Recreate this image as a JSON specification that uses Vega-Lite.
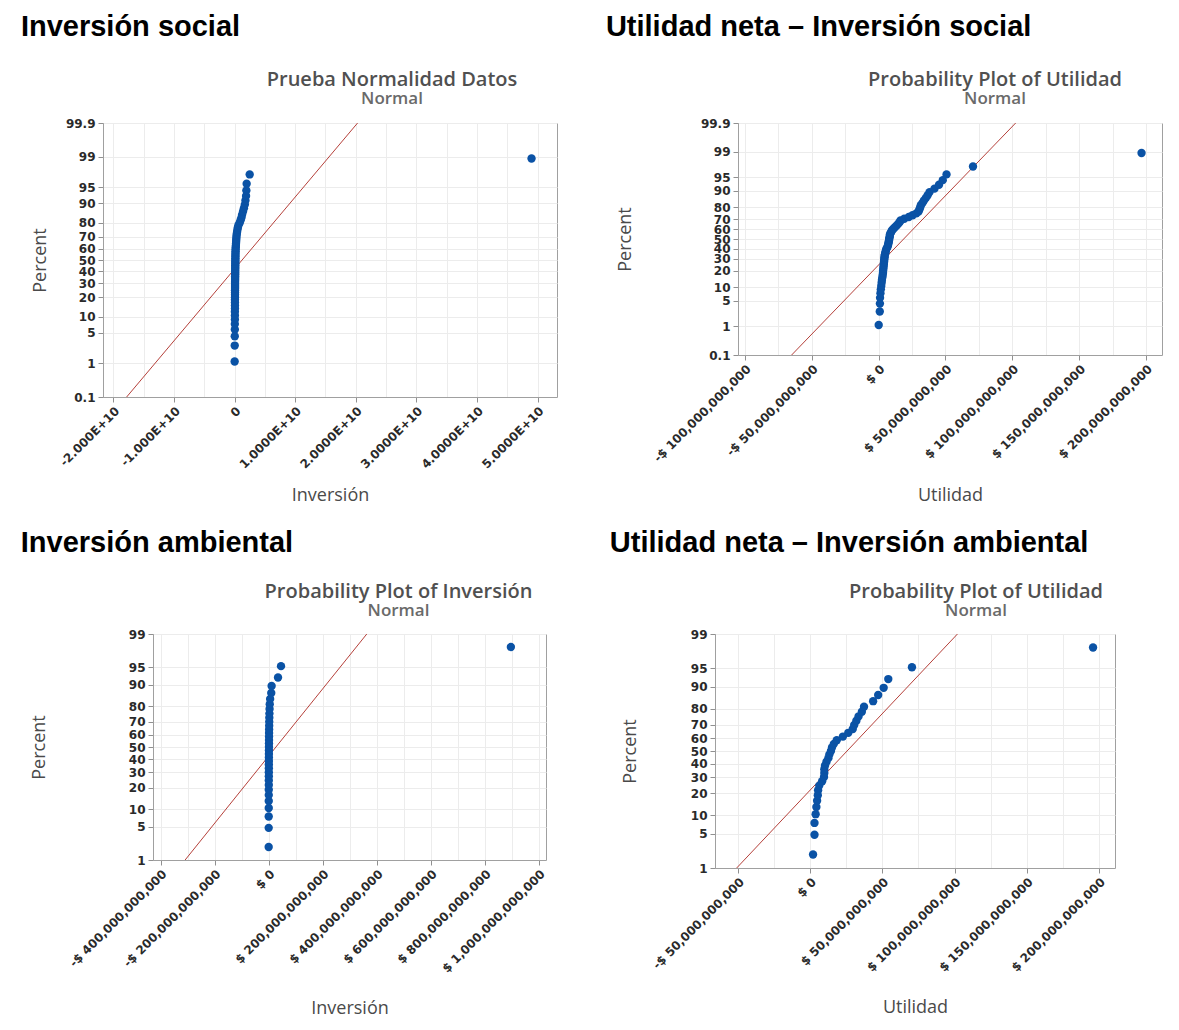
{
  "$schema": "https://vega.github.io/schema/vega-lite/v6.json",
  "background": "white",
  "padding": {"left": 0, "top": 12, "right": 0, "bottom": 0},
  "datasets": {
    "inv_social": [{"inversion":2e7,"percent":1.1},{"inversion":3e7,"percent":2.68},{"inversion":4e7,"percent":4.26},{"inversion":5e7,"percent":5.84},{"inversion":5e7,"percent":7.41},{"inversion":6e7,"percent":8.99},{"inversion":6e7,"percent":10.57},{"inversion":6e7,"percent":12.15},{"inversion":7e7,"percent":13.72},{"inversion":7e7,"percent":15.3},{"inversion":7e7,"percent":16.88},{"inversion":7e7,"percent":18.45},{"inversion":8e7,"percent":20.03},{"inversion":8e7,"percent":21.61},{"inversion":8e7,"percent":23.19},{"inversion":8e7,"percent":24.76},{"inversion":9e7,"percent":26.34},{"inversion":9e7,"percent":27.92},{"inversion":9e7,"percent":29.5},{"inversion":9e7,"percent":31.07},{"inversion":1.0e8,"percent":32.65},{"inversion":1.0e8,"percent":34.23},{"inversion":1.0e8,"percent":35.8},{"inversion":1.1e8,"percent":37.38},{"inversion":1.1e8,"percent":38.96},{"inversion":1.1e8,"percent":40.54},{"inversion":1.2e8,"percent":42.11},{"inversion":1.2e8,"percent":43.69},{"inversion":1.2e8,"percent":45.27},{"inversion":1.3e8,"percent":46.85},{"inversion":1.3e8,"percent":48.42},{"inversion":1.4e8,"percent":50},{"inversion":1.4e8,"percent":51.58},{"inversion":1.5e8,"percent":53.15},{"inversion":1.5e8,"percent":54.73},{"inversion":1.6e8,"percent":56.31},{"inversion":1.7e8,"percent":57.89},{"inversion":1.8e8,"percent":59.46},{"inversion":2.0e8,"percent":61.04},{"inversion":2.2e8,"percent":62.62},{"inversion":2.4e8,"percent":64.2},{"inversion":2.6e8,"percent":65.77},{"inversion":2.8e8,"percent":67.35},{"inversion":3.0e8,"percent":68.93},{"inversion":3.3e8,"percent":70.5},{"inversion":3.7e8,"percent":72.08},{"inversion":4.2e8,"percent":73.66},{"inversion":4.8e8,"percent":75.24},{"inversion":5.5e8,"percent":76.81},{"inversion":6.5e8,"percent":78.39},{"inversion":8.5e8,"percent":79.97},{"inversion":1.0e9,"percent":81.55},{"inversion":1.15e9,"percent":83.12},{"inversion":1.25e9,"percent":84.7},{"inversion":1.4e9,"percent":86.28},{"inversion":1.55e9,"percent":87.85},{"inversion":1.7e9,"percent":89.43},{"inversion":1.8e9,"percent":91.01},{"inversion":1.9e9,"percent":92.59},{"inversion":1.95e9,"percent":94.16},{"inversion":2.0e9,"percent":95.74},{"inversion":2.5e9,"percent":97.32},{"inversion":4.9e10,"percent":98.9}],
    "linea_inv_social": [{"inversion":-1.78e10,"percent":0.1},{"inversion":2.03e10,"percent":99.9}],
    "util_social": [{"utilidad":0.1e9,"percent":1.1},{"utilidad":0.9e9,"percent":2.68},{"utilidad":1.0e9,"percent":4.26},{"utilidad":1.1e9,"percent":5.84},{"utilidad":1.4e9,"percent":7.41},{"utilidad":1.7e9,"percent":8.99},{"utilidad":2.0e9,"percent":10.57},{"utilidad":2.3e9,"percent":12.15},{"utilidad":2.5e9,"percent":13.72},{"utilidad":2.8e9,"percent":15.3},{"utilidad":3.1e9,"percent":16.88},{"utilidad":3.3e9,"percent":18.45},{"utilidad":3.4e9,"percent":20.03},{"utilidad":3.6e9,"percent":21.61},{"utilidad":3.7e9,"percent":23.19},{"utilidad":3.9e9,"percent":24.76},{"utilidad":4.0e9,"percent":26.34},{"utilidad":4.2e9,"percent":27.92},{"utilidad":4.2e9,"percent":29.5},{"utilidad":4.5e9,"percent":31.07},{"utilidad":4.5e9,"percent":32.65},{"utilidad":4.8e9,"percent":34.23},{"utilidad":5.1e9,"percent":35.8},{"utilidad":5.4e9,"percent":37.38},{"utilidad":5.7e9,"percent":38.96},{"utilidad":6.2e9,"percent":40.54},{"utilidad":6.8e9,"percent":42.11},{"utilidad":7.1e9,"percent":43.69},{"utilidad":7.3e9,"percent":45.27},{"utilidad":7.6e9,"percent":46.85},{"utilidad":7.8e9,"percent":48.42},{"utilidad":7.9e9,"percent":50},{"utilidad":8.2e9,"percent":51.58},{"utilidad":8.4e9,"percent":53.15},{"utilidad":8.5e9,"percent":54.73},{"utilidad":9.0e9,"percent":56.31},{"utilidad":9.6e9,"percent":57.89},{"utilidad":10.2e9,"percent":59.46},{"utilidad":11.3e9,"percent":61.04},{"utilidad":12.4e9,"percent":62.62},{"utilidad":13.6e9,"percent":64.2},{"utilidad":14.7e9,"percent":65.77},{"utilidad":15.8e9,"percent":67.35},{"utilidad":16.4e9,"percent":68.93},{"utilidad":19.2e9,"percent":70.5},{"utilidad":22.6e9,"percent":72.08},{"utilidad":25.4e9,"percent":73.66},{"utilidad":28.2e9,"percent":75.24},{"utilidad":29.9e9,"percent":76.81},{"utilidad":30.5e9,"percent":78.39},{"utilidad":31.1e9,"percent":79.97},{"utilidad":31.6e9,"percent":81.55},{"utilidad":32.8e9,"percent":83.12},{"utilidad":33.9e9,"percent":84.7},{"utilidad":35.3e9,"percent":86.28},{"utilidad":36.7e9,"percent":87.85},{"utilidad":38.1e9,"percent":89.43},{"utilidad":41.8e9,"percent":91.01},{"utilidad":45.2e9,"percent":92.59},{"utilidad":48.0e9,"percent":94.16},{"utilidad":50.8e9,"percent":95.74},{"utilidad":70.6e9,"percent":97.32},{"utilidad":196.6e9,"percent":98.9}],
    "linea_util_social": [{"utilidad":-65.0e9,"percent":0.1},{"utilidad":102.5e9,"percent":99.9}],
    "inv_amb": [{"inversion":0.2e9,"percent":1.98},{"inversion":0.3e9,"percent":4.8},{"inversion":0.4e9,"percent":7.63},{"inversion":0.5e9,"percent":10.45},{"inversion":0.5e9,"percent":13.28},{"inversion":0.6e9,"percent":16.1},{"inversion":0.6e9,"percent":18.93},{"inversion":0.7e9,"percent":21.75},{"inversion":0.7e9,"percent":24.58},{"inversion":0.8e9,"percent":27.4},{"inversion":0.8e9,"percent":30.23},{"inversion":0.9e9,"percent":33.05},{"inversion":0.9e9,"percent":35.88},{"inversion":1.0e9,"percent":38.7},{"inversion":1.0e9,"percent":41.53},{"inversion":1.1e9,"percent":44.35},{"inversion":1.2e9,"percent":47.18},{"inversion":1.3e9,"percent":50},{"inversion":1.4e9,"percent":52.82},{"inversion":1.5e9,"percent":55.65},{"inversion":1.6e9,"percent":58.47},{"inversion":1.7e9,"percent":61.3},{"inversion":1.9e9,"percent":64.12},{"inversion":2.1e9,"percent":66.95},{"inversion":2.3e9,"percent":69.77},{"inversion":2.6e9,"percent":72.6},{"inversion":3.0e9,"percent":75.42},{"inversion":3.5e9,"percent":78.25},{"inversion":4.2e9,"percent":81.07},{"inversion":5.6e9,"percent":83.9},{"inversion":9.7e9,"percent":86.72},{"inversion":11.1e9,"percent":89.55},{"inversion":34.8e9,"percent":92.37},{"inversion":45.9e9,"percent":95.2},{"inversion":896.4e9,"percent":98.02}],
    "linea_inv_amb": [{"inversion":-309e9,"percent":1},{"inversion":363.3e9,"percent":99}],
    "util_amb": [{"utilidad":2.0e9,"percent":1.98},{"utilidad":3.0e9,"percent":4.8},{"utilidad":3.0e9,"percent":7.63},{"utilidad":3.8e9,"percent":10.45},{"utilidad":4.3e9,"percent":13.28},{"utilidad":4.8e9,"percent":16.1},{"utilidad":5.3e9,"percent":18.93},{"utilidad":5.5e9,"percent":21.75},{"utilidad":6.3e9,"percent":24.58},{"utilidad":8.3e9,"percent":27.4},{"utilidad":9.6e9,"percent":30.23},{"utilidad":9.8e9,"percent":33.05},{"utilidad":9.8e9,"percent":35.88},{"utilidad":10.3e9,"percent":38.7},{"utilidad":11.3e9,"percent":41.53},{"utilidad":12.6e9,"percent":44.35},{"utilidad":13.3e9,"percent":47.18},{"utilidad":14.4e9,"percent":50},{"utilidad":15.1e9,"percent":52.82},{"utilidad":16.4e9,"percent":55.65},{"utilidad":18.4e9,"percent":58.47},{"utilidad":22.7e9,"percent":61.3},{"utilidad":26.4e9,"percent":64.12},{"utilidad":29.5e9,"percent":66.95},{"utilidad":30.5e9,"percent":69.77},{"utilidad":32.0e9,"percent":72.6},{"utilidad":33.5e9,"percent":75.42},{"utilidad":35.8e9,"percent":78.25},{"utilidad":37.3e9,"percent":81.07},{"utilidad":43.6e9,"percent":83.9},{"utilidad":47.1e9,"percent":86.72},{"utilidad":50.9e9,"percent":89.55},{"utilidad":54.1e9,"percent":92.37},{"utilidad":70.5e9,"percent":95.2},{"utilidad":195.9e9,"percent":98.02}],
    "linea_util_amb": [{"utilidad":-50.9e9,"percent":1},{"utilidad":102.0e9,"percent":99}],
    "vacio": []
  },
  "spacing": 22,
  "align": "none",
  "vconcat": [
    {
      "spacing": 17,
      "align": "none",
      "hconcat": [
        {"width": 1, "height": 1, "data": {"name": "vacio"}, "mark": "point", "view": {"stroke": "white"}},
        {
          "spacing": 47,
          "align": "none",
          "hconcat": [
            {
              "title": {"text": "Inversión social", "anchor": "start", "font": "Liberation Sans", "fontSize": 29, "fontWeight": "bold", "color": "black", "offset": 28, "dx": -10},
              "vconcat": [
                {
                  "width": 454, "height": 274,
                  "title": {"text": "Prueba Normalidad Datos", "subtitle": "Normal", "anchor": "middle", "frame": "group", "dx": 62, "font": "Open Sans", "fontSize": 20, "fontWeight": 600, "color": "#505050", "subtitleFont": "Open Sans", "subtitleFontSize": 17, "subtitleFontWeight": 600, "subtitleColor": "#6a6a6a", "subtitlePadding": 1, "offset": 10},
                  "encoding": {
                    "x": {"field": "inversion", "type": "quantitative", "scale": {"domain": [-2.17e10, 5.32e10], "nice": false, "zero": false},
                      "axis": {"title": "Inversión", "values": [-2e10,-1.5e10,-1e10,-5e9,0,5e9,1e10,1.5e10,2e10,2.5e10,3e10,3.5e10,4e10,4.5e10,5e10], "labelAngle": -45, "labelOverlap": false, "titlePadding": 16,
                        "labelExpr": "abs(datum.value % 1e10) > 1 ? '' : (datum.value == 0 ? '0' : (datum.value < 0 ? '-' + replace(format(abs(datum.value), '.3e'), 'e', 'E') : replace(format(datum.value, '.4e'), 'e', 'E')))",
                        "tickOpacity": {"condition": {"test": "abs(datum.value % 1e10) > 1", "value": 0}, "value": 1}}},
                    "y": {"field": "z", "type": "quantitative", "scale": {"domain": [-3.0902, 3.0902], "nice": false, "zero": false},
                      "axis": {"title": "Percent", "values": [-3.0902,-2.3263,-1.6449,-1.2816,-0.8416,-0.5244,-0.2533,0,0.2533,0.5244,0.8416,1.2816,1.6449,2.3263,3.0902], "labelOverlap": false, "titlePadding": 16,
                        "labelExpr": "abs(datum.value) > 2.9 ? format(cumulativeNormal(datum.value)*100, '.1f') : format(cumulativeNormal(datum.value)*100, '.0f')"}}
                  },
                  "layer": [
                    {"data": {"name": "linea_inv_social"}, "transform": [{"calculate": "quantileNormal(datum.percent/100)", "as": "z"}], "mark": {"type": "line", "color": "#b5403a", "strokeWidth": 1}},
                    {"data": {"name": "inv_social"}, "transform": [{"calculate": "quantileNormal(datum.percent/100)", "as": "z"}], "mark": {"type": "circle", "size": 70, "opacity": 1, "color": "#0a52a5"}}
                  ]
                }
              ]
            },
            {
              "title": {"text": "Utilidad neta – Inversión social", "anchor": "start", "font": "Liberation Sans", "fontSize": 29, "fontWeight": "bold", "color": "black", "offset": 28, "dx": -10},
              "vconcat": [
                {
                  "width": 424, "height": 232,
                  "title": {"text": "Probability Plot of Utilidad", "subtitle": "Normal", "anchor": "middle", "frame": "group", "dx": 45, "font": "Open Sans", "fontSize": 20, "fontWeight": 600, "color": "#505050", "subtitleFont": "Open Sans", "subtitleFontSize": 17, "subtitleFontWeight": 600, "subtitleColor": "#6a6a6a", "subtitlePadding": 1, "offset": 10},
                  "encoding": {
                    "x": {"field": "utilidad", "type": "quantitative", "scale": {"domain": [-105.1e9, 211.9e9], "nice": false, "zero": false},
                      "axis": {"title": "Utilidad", "values": [-100e9,-75e9,-50e9,-25e9,0,25e9,50e9,75e9,100e9,125e9,150e9,175e9,200e9], "labelAngle": -45, "labelOverlap": false, "titlePadding": 23,
                        "labelExpr": "datum.value % 5e10 != 0 ? '' : (datum.value < 0 ? '-$ ' : '$ ') + format(abs(datum.value), ',.0f')",
                        "tickOpacity": {"condition": {"test": "datum.value % 5e10 != 0", "value": 0}, "value": 1}}},
                    "y": {"field": "z", "type": "quantitative", "scale": {"domain": [-3.0902, 3.0902], "nice": false, "zero": false},
                      "axis": {"title": "Percent", "values": [-3.0902,-2.3263,-1.6449,-1.2816,-0.8416,-0.5244,-0.2533,0,0.2533,0.5244,0.8416,1.2816,1.6449,2.3263,3.0902], "labelOverlap": false, "titlePadding": 66,
                        "labelExpr": "abs(datum.value) > 2.9 ? format(cumulativeNormal(datum.value)*100, '.1f') : format(cumulativeNormal(datum.value)*100, '.0f')"}}
                  },
                  "layer": [
                    {"data": {"name": "linea_util_social"}, "transform": [{"calculate": "quantileNormal(datum.percent/100)", "as": "z"}], "mark": {"type": "line", "color": "#b5403a", "strokeWidth": 1}},
                    {"data": {"name": "util_social"}, "transform": [{"calculate": "quantileNormal(datum.percent/100)", "as": "z"}], "mark": {"type": "circle", "size": 70, "opacity": 1, "color": "#0a52a5"}}
                  ]
                }
              ]
            }
          ]
        }
      ]
    },
    {
      "spacing": 17,
      "align": "none",
      "hconcat": [
        {"width": 1, "height": 1, "data": {"name": "vacio"}, "mark": "point", "view": {"stroke": "white"}},
        {
          "spacing": 61,
          "align": "none",
          "hconcat": [
            {
              "title": {"text": "Inversión ambiental", "anchor": "start", "font": "Liberation Sans", "fontSize": 29, "fontWeight": "bold", "color": "black", "offset": 24, "dx": -9},
              "vconcat": [
                {
                  "width": 393, "height": 226,
                  "title": {"text": "Probability Plot of Inversión", "subtitle": "Normal", "anchor": "middle", "frame": "group", "dx": 49, "font": "Open Sans", "fontSize": 20, "fontWeight": 600, "color": "#505050", "subtitleFont": "Open Sans", "subtitleFontSize": 17, "subtitleFontWeight": 600, "subtitleColor": "#6a6a6a", "subtitlePadding": 1, "offset": 9},
                  "encoding": {
                    "x": {"field": "inversion", "type": "quantitative", "scale": {"domain": [-427.8e9, 1026.4e9], "nice": false, "zero": false},
                      "axis": {"title": "Inversión", "values": [-400e9,-300e9,-200e9,-100e9,0,100e9,200e9,300e9,400e9,500e9,600e9,700e9,800e9,900e9,1000e9], "labelAngle": -45, "labelOverlap": false, "titlePadding": 25,
                        "labelExpr": "datum.value % 2e11 != 0 ? '' : (datum.value < 0 ? '-$ ' : '$ ') + format(abs(datum.value), ',.0f')",
                        "tickOpacity": {"condition": {"test": "datum.value % 2e11 != 0", "value": 0}, "value": 1}}},
                    "y": {"field": "z", "type": "quantitative", "scale": {"domain": [-2.3263, 2.3263], "nice": false, "zero": false},
                      "axis": {"title": "Percent", "values": [-2.3263,-1.6449,-1.2816,-0.8416,-0.5244,-0.2533,0,0.2533,0.5244,0.8416,1.2816,1.6449,2.3263], "labelOverlap": false, "titlePadding": 80,
                        "labelExpr": "format(cumulativeNormal(datum.value)*100, '.0f')"}}
                  },
                  "layer": [
                    {"data": {"name": "linea_inv_amb"}, "transform": [{"calculate": "quantileNormal(datum.percent/100)", "as": "z"}], "mark": {"type": "line", "color": "#b5403a", "strokeWidth": 1}},
                    {"data": {"name": "inv_amb"}, "transform": [{"calculate": "quantileNormal(datum.percent/100)", "as": "z"}], "mark": {"type": "circle", "size": 70, "opacity": 1, "color": "#0a52a5"}}
                  ]
                }
              ]
            },
            {
              "title": {"text": "Utilidad neta – Inversión ambiental", "anchor": "start", "font": "Liberation Sans", "fontSize": 29, "fontWeight": "bold", "color": "black", "offset": 24, "dx": -11},
              "vconcat": [
                {
                  "width": 400, "height": 234,
                  "title": {"text": "Probability Plot of Utilidad", "subtitle": "Normal", "anchor": "middle", "frame": "group", "dx": 61, "font": "Open Sans", "fontSize": 20, "fontWeight": 600, "color": "#505050", "subtitleFont": "Open Sans", "subtitleFontSize": 17, "subtitleFontWeight": 600, "subtitleColor": "#6a6a6a", "subtitlePadding": 1, "offset": 9},
                  "encoding": {
                    "x": {"field": "utilidad", "type": "quantitative", "scale": {"domain": [-65.9e9, 211.1e9], "nice": false, "zero": false},
                      "axis": {"title": "Utilidad", "values": [-50e9,-25e9,0,25e9,50e9,75e9,100e9,125e9,150e9,175e9,200e9], "labelAngle": -45, "labelOverlap": false, "titlePadding": 25,
                        "labelExpr": "datum.value % 5e10 != 0 ? '' : (datum.value < 0 ? '-$ ' : '$ ') + format(abs(datum.value), ',.0f')",
                        "tickOpacity": {"condition": {"test": "datum.value % 5e10 != 0", "value": 0}, "value": 1}}},
                    "y": {"field": "z", "type": "quantitative", "scale": {"domain": [-2.3263, 2.3263], "nice": false, "zero": false},
                      "axis": {"title": "Percent", "values": [-2.3263,-1.6449,-1.2816,-0.8416,-0.5244,-0.2533,0,0.2533,0.5244,0.8416,1.2816,1.6449,2.3263], "labelOverlap": false, "titlePadding": 51,
                        "labelExpr": "format(cumulativeNormal(datum.value)*100, '.0f')"}}
                  },
                  "layer": [
                    {"data": {"name": "linea_util_amb"}, "transform": [{"calculate": "quantileNormal(datum.percent/100)", "as": "z"}], "mark": {"type": "line", "color": "#b5403a", "strokeWidth": 1}},
                    {"data": {"name": "util_amb"}, "transform": [{"calculate": "quantileNormal(datum.percent/100)", "as": "z"}], "mark": {"type": "circle", "size": 70, "opacity": 1, "color": "#0a52a5"}}
                  ]
                }
              ]
            }
          ]
        }
      ]
    }
  ],
  "config": {
    "view": {"stroke": "#a0a0a0", "strokeWidth": 1},
    "axis": {"domainColor": "#a0a0a0", "tickColor": "#909090", "gridColor": "#ececec", "labelFont": "DejaVu Sans", "labelFontSize": 12, "labelFontWeight": "bold", "labelColor": "#2a2a2a", "titleFont": "Open Sans", "titleFontSize": 18, "titleFontWeight": "normal", "titleColor": "#4a4a4a", "labelPadding": 3, "tickSize": 5}
  }
}
